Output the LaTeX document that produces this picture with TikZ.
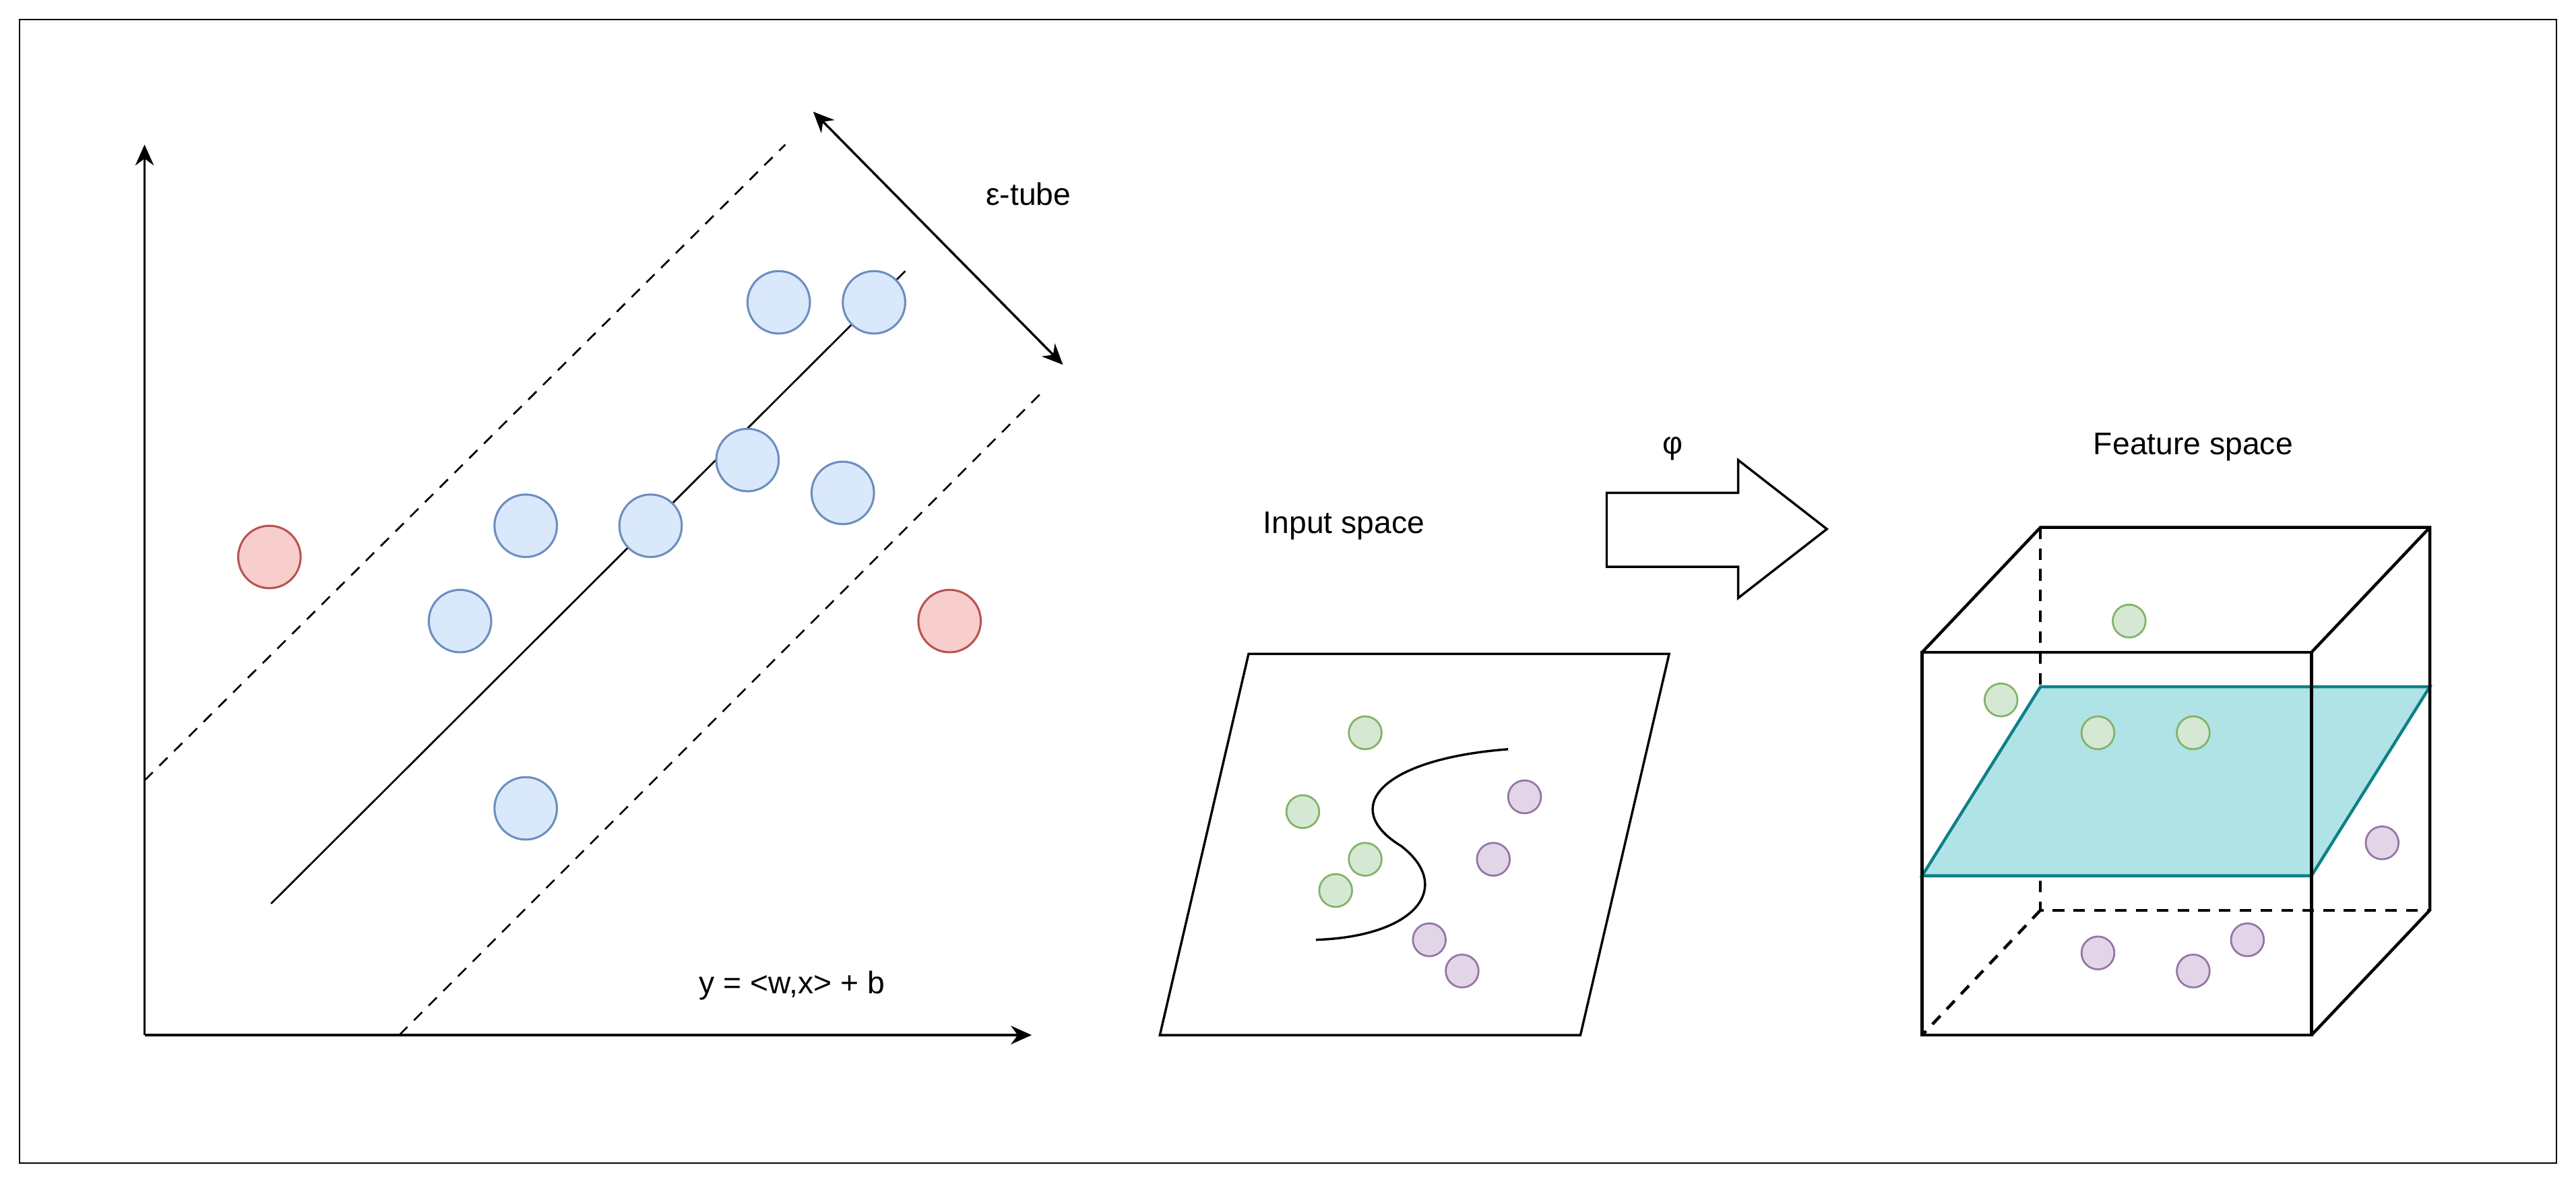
\documentclass[tikz,border=0pt]{standalone}
\usepackage{fontspec}
\setmainfont{Liberation Sans}
\usetikzlibrary{positioning,arrows.meta}
\definecolor{bluefill}{HTML}{DAE8FC}
\definecolor{bluedraw}{HTML}{6C8EBF}
\definecolor{redfill}{HTML}{F8CECC}
\definecolor{reddraw}{HTML}{B85450}
\definecolor{greenfill}{HTML}{D5E8D4}
\definecolor{greendraw}{HTML}{82B366}
\definecolor{purplefill}{HTML}{E1D5E7}
\definecolor{purpledraw}{HTML}{9673A6}
\definecolor{planefill}{HTML}{B0E3E6}
\definecolor{planedraw}{HTML}{0E8088}
\begin{document}
\begin{tikzpicture}[x=0.025cm,y=-0.025cm,
    line width=0.8pt,
    every node/.style={font=\fontsize{13.5}{16}\selectfont},
    big/.style={circle,draw,line width=0.9pt,minimum size=0.95cm,inner sep=0pt},
    small/.style={circle,draw,line width=0.8pt,minimum size=0.5cm,inner sep=0pt},
    svpoint/.style={big,fill=bluefill,draw=bluedraw},
    outlier/.style={big,fill=redfill,draw=reddraw},
    classA/.style={small,fill=greenfill,draw=greendraw},
    classB/.style={small,fill=purplefill,draw=purpledraw},
    axis/.style={line width=1pt,-{Stealth[length=9pt,width=8pt]}},
    hidden/.style={dashed,dash pattern=on 5pt off 4pt},
    edge/.style={line width=1.3pt}
    ]
    \useasboundingbox (0,0) rectangle (1568,721.5);
    \draw[line width=0.6pt] (12,12) rectangle (1556,708);
    % regression plot
    \coordinate (O) at (88,630);
    \coordinate (Ytop) at (88,88);
    \coordinate (Xend) at (628,630);
    \draw[axis] (O) -- (Ytop);
    \draw[axis] (O) -- (Xend);
    \coordinate (U1) at (88,475);
    \coordinate (U2) at (478,88);
    \coordinate (L1) at (243,630);
    \coordinate (L2) at (633,240);
    \draw[hidden] (U1) -- (U2);
    \draw[hidden] (L1) -- (L2);
    \coordinate (M1) at (165,550);
    \coordinate (M2) at (551,165);
    \draw (M1) -- (M2);
    \coordinate (T1) at (495,68);
    \coordinate (T2) at (647,222);
    \draw[line width=1pt,{Stealth[length=9pt,width=8pt]}-{Stealth[length=9pt,width=8pt]}] (T1) -- (T2);
    \node (tube) at (626,118) {ε-tube};
    \node (model) at (482,600) {y = <w,x> + b};
    \foreach \x/\y [count=\i] in {474/184,532/184,455/280,513/300,320/320,396/320,280/378,320/492}
      \node[svpoint] (s\i) at (\x,\y) {};
    \node[outlier] (r1) at (164,339) {};
    \node[outlier] (r2) at (578,378) {};
    % input space
    \node (input) at (818,320) {Input space};
    \coordinate (P1) at (760,398);
    \coordinate (P2) at (1016,398);
    \coordinate (P3) at (962,630);
    \coordinate (P4) at (706,630);
    \draw[line width=1pt] (P1) -- (P2) -- (P3) -- (P4) -- cycle;
    \coordinate (S1) at (918,456);
    \coordinate (S2) at (801,572);
    \draw[line width=1pt] (S1) .. controls (840,462) and (815,492) .. (853,515)
      .. controls (885,540) and (862,570) .. (S2);
    \foreach \x/\y [count=\i] in {831/446,793/494,831/523,813/542}
      \node[classA] (ia\i) at (\x,\y) {};
    \foreach \x/\y [count=\i] in {928/485,909/523,870/572,890/591}
      \node[classB] (ib\i) at (\x,\y) {};
    % mapping
    \node (phi) at (1018,273) {φ};
    \draw[line width=1pt] (978,300) -- (1058,300) -- (1058,280) -- (1112,322)
      -- (1058,364) -- (1058,345) -- (978,345) -- cycle;
    % feature space
    \node (feature) at (1335,272) {Feature space};
    \coordinate (F1) at (1170,397);
    \coordinate (F2) at (1407,397);
    \coordinate (F3) at (1407,630);
    \coordinate (F4) at (1170,630);
    \coordinate (B1) at (1242,321);
    \coordinate (B2) at (1479,321);
    \coordinate (B3) at (1479,554);
    \coordinate (B4) at (1242,554);
    \draw[edge,hidden] (B1) -- (B4) -- (B3);
    \draw[edge,hidden] (B4) -- (F4);
    \draw[edge,fill=planefill,draw=planedraw] (1242,418) -- (1479,418) -- (1407,533) -- (1170,533) -- cycle;
    \draw[edge] (F1) -- (F2) -- (F3) -- (F4) -- cycle;
    \draw[edge] (F1) -- (B1) -- (B2) -- (B3) -- (F3);
    \draw[edge] (F2) -- (B2);
    \foreach \x/\y [count=\i] in {1296/378,1218/426,1277/446,1335/446}
      \node[classA] (fa\i) at (\x,\y) {};
    \foreach \x/\y [count=\i] in {1450/513,1277/580,1335/591,1368/572}
      \node[classB] (fb\i) at (\x,\y) {};
\end{tikzpicture}
\end{document}
